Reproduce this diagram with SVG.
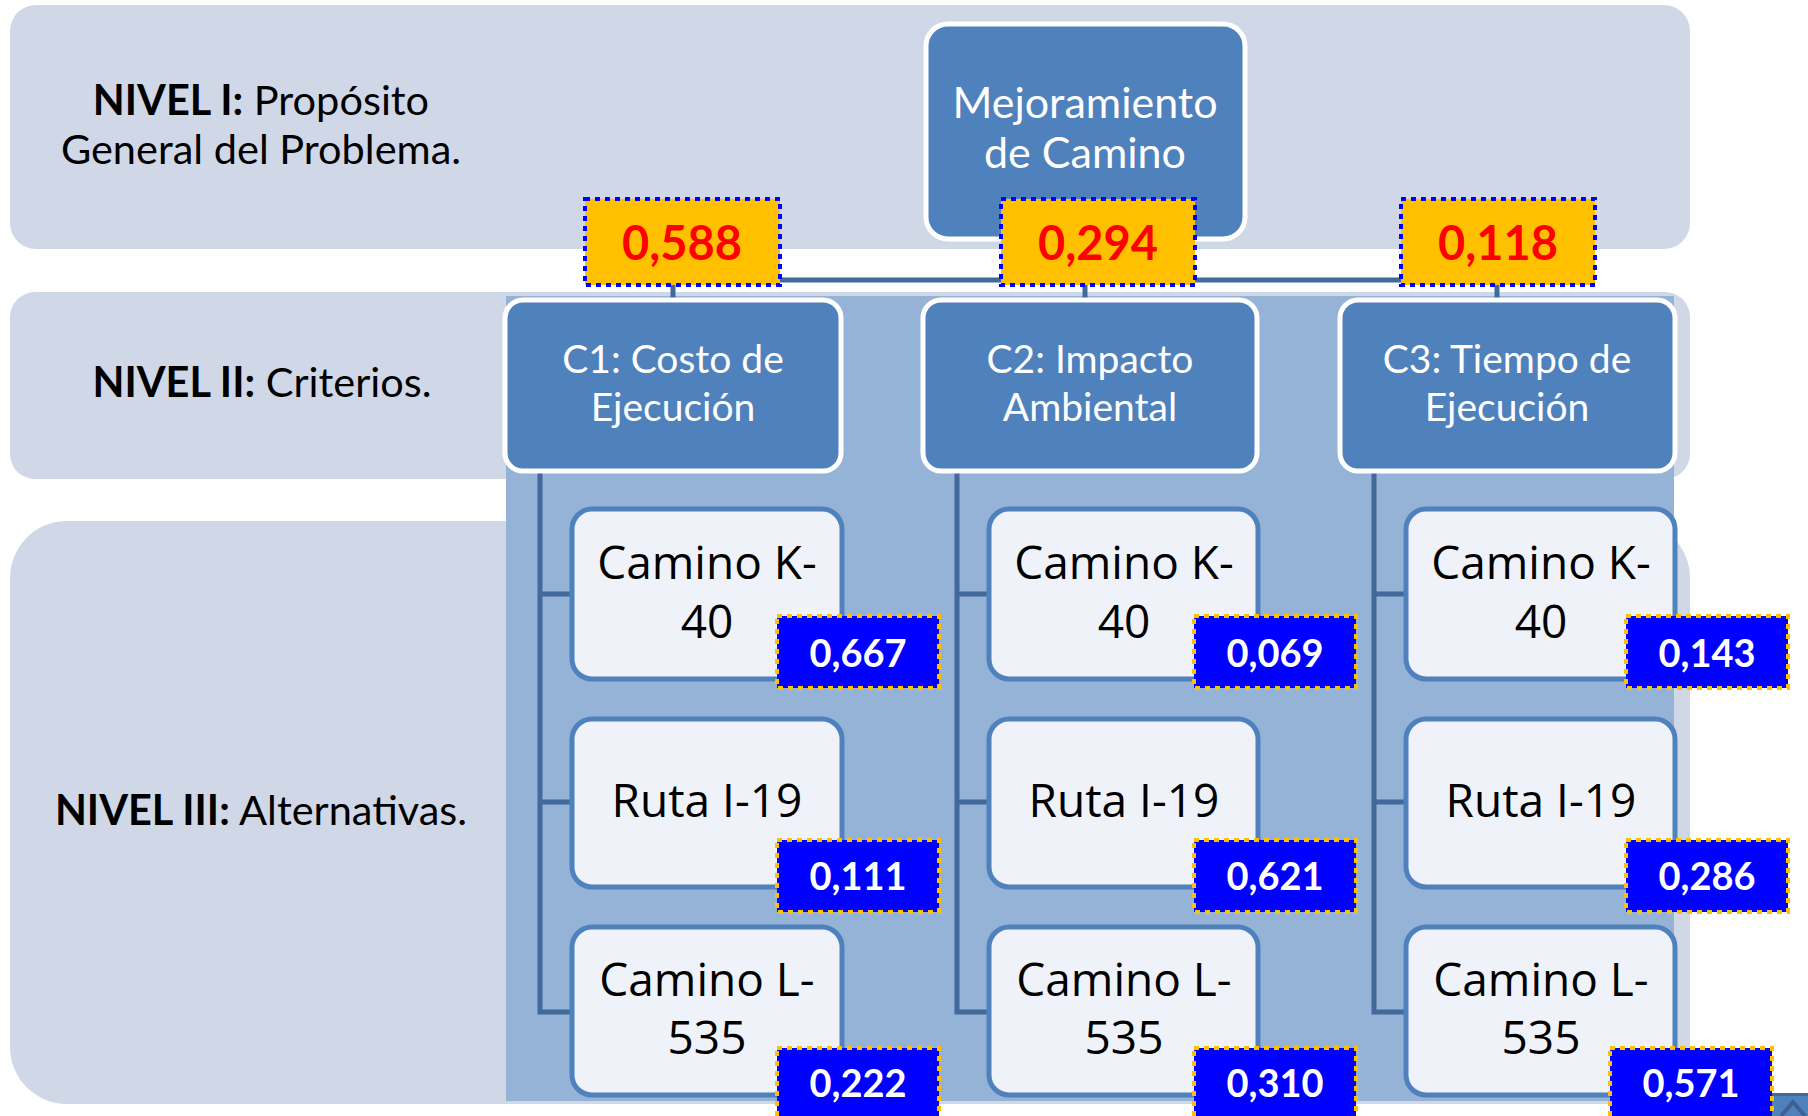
<svg xmlns="http://www.w3.org/2000/svg" width="1808" height="1116" viewBox="0 0 1808 1116">
<style>
.band{fill:#D0D8E8}
.lvl{font-family:Lato,"Open Sans",sans-serif;font-size:41.5px;fill:#000;text-anchor:middle}
.lvl .b{font-weight:bold}
.crit rect{fill:#4F81BD;stroke:#FFFFFF;stroke-width:5}
.crit text{font-family:Lato,"Open Sans",sans-serif;font-size:39px;fill:#FFFFFF;text-anchor:middle}
#goal text{font-size:43px}
.alt rect{fill:#EFF3F9;stroke:#4F81BD;stroke-width:5}
.alt text{font-family:"Open Sans","DejaVu Sans",sans-serif;font-size:46px;fill:#000;text-anchor:middle}
.w rect{fill:#FFC000;stroke:#0000FF;stroke-width:4;stroke-dasharray:5 5}
.w text{font-family:Lato,"Open Sans",sans-serif;font-weight:bold;font-size:47px;fill:#FF0000;text-anchor:middle}
.v rect{fill:#0000FF;stroke:#FFC000;stroke-width:4;stroke-dasharray:5 5}
.v text{font-family:Lato,"Open Sans",sans-serif;font-weight:bold;font-size:38px;fill:#FFFFFF;text-anchor:middle}
.conn{stroke:#41699A;stroke-width:5;fill:none}
</style>
<rect width="1808" height="1116" fill="#FFFFFF"/>
<g id="bands">
<rect class="band" x="10" y="5" width="1680" height="244" rx="26"/>
<rect class="band" x="10" y="292" width="1680" height="187" rx="25"/>
<rect class="band" x="10" y="521" width="1680" height="583" rx="57"/>
</g>
<g id="level-labels" class="lvl">
<text x="261" y="115"><tspan class="b">NIVEL I:</tspan> Propósito</text>
<text x="261" y="164">General del Problema.</text>
<text x="262" y="397"><tspan class="b">NIVEL II:</tspan> Criterios.</text>
<text x="261" y="825"><tspan class="b">NIVEL III:</tspan> Alternativas.</text>
</g>
<rect id="panel" x="506" y="296" width="1168" height="805" fill="#95B3D7"/>
<g id="connectors" class="conn">
<path d="M1085 239V280M673 300V280H1497V300M1085 280V300"/>
<path d="M540 471V1012H572M540 594H572M540 802H572"/>
<path d="M957 471V1012H989M957 594H989M957 802H989"/>
<path d="M1374 471V1012H1406M1374 594H1406M1374 802H1406"/>
</g>
<g id="goal" class="crit">
<rect x="926" y="24" width="319" height="215" rx="22"/>
<text x="1085" y="118">Mejoramiento</text>
<text x="1085" y="168">de Camino</text>
</g>
<g id="c1" class="crit">
<rect x="505" y="300" width="336" height="171" rx="18"/>
<text x="673" y="373">C1: Costo de</text>
<text x="673" y="421">Ejecución</text>
</g>
<g id="c2" class="crit">
<rect x="923" y="300" width="334" height="171" rx="18"/>
<text x="1090" y="373">C2: Impacto</text>
<text x="1090" y="421">Ambiental</text>
</g>
<g id="c3" class="crit">
<rect x="1340" y="300" width="335" height="171" rx="18"/>
<text x="1507" y="373">C3: Tiempo de</text>
<text x="1507" y="421">Ejecución</text>
</g>
<g id="w1" class="w"><rect x="585" y="199" width="195" height="86"/><text x="682" y="260">0,588</text></g>
<g id="w2" class="w"><rect x="1001" y="199" width="194" height="86"/><text x="1098" y="260">0,294</text></g>
<g id="w3" class="w"><rect x="1401" y="199" width="194" height="86"/><text x="1498" y="260">0,118</text></g>
<g id="a11" class="alt"><rect x="572" y="509" width="270" height="170" rx="20"/><text x="707" y="579">Camino K-</text><text x="707" y="638">40</text></g>
<g id="a12" class="alt"><rect x="572" y="719" width="270" height="168" rx="20"/><text x="707" y="817">Ruta I-19</text></g>
<g id="a13" class="alt"><rect x="572" y="927" width="270" height="168" rx="20"/><text x="707" y="996">Camino L-</text><text x="707" y="1054">535</text></g>
<g id="a21" class="alt"><rect x="989" y="509" width="269" height="170" rx="20"/><text x="1124" y="579">Camino K-</text><text x="1124" y="638">40</text></g>
<g id="a22" class="alt"><rect x="989" y="719" width="269" height="168" rx="20"/><text x="1124" y="817">Ruta I-19</text></g>
<g id="a23" class="alt"><rect x="989" y="927" width="269" height="168" rx="20"/><text x="1124" y="996">Camino L-</text><text x="1124" y="1054">535</text></g>
<g id="a31" class="alt"><rect x="1406" y="509" width="269" height="170" rx="20"/><text x="1541" y="579">Camino K-</text><text x="1541" y="638">40</text></g>
<g id="a32" class="alt"><rect x="1406" y="719" width="269" height="168" rx="20"/><text x="1541" y="817">Ruta I-19</text></g>
<g id="a33" class="alt"><rect x="1406" y="927" width="269" height="168" rx="20"/><text x="1541" y="996">Camino L-</text><text x="1541" y="1054">535</text></g>
<g id="v11" class="v"><rect x="777" y="616" width="162" height="72"/><text x="858" y="667">0,667</text></g>
<g id="v12" class="v"><rect x="777" y="840" width="162" height="72"/><text x="858" y="890">0,111</text></g>
<g id="v13" class="v"><rect x="777" y="1048" width="162" height="72"/><text x="858" y="1097">0,222</text></g>
<g id="v21" class="v"><rect x="1194" y="616" width="162" height="72"/><text x="1275" y="667">0,069</text></g>
<g id="v22" class="v"><rect x="1194" y="840" width="162" height="72"/><text x="1275" y="890">0,621</text></g>
<g id="v23" class="v"><rect x="1194" y="1048" width="162" height="72"/><text x="1275" y="1097">0,310</text></g>
<g id="v31" class="v"><rect x="1626" y="616" width="162" height="72"/><text x="1707" y="667">0,143</text></g>
<g id="v32" class="v"><rect x="1626" y="840" width="162" height="72"/><text x="1707" y="890">0,286</text></g>
<g id="corner-button">
<rect x="1771" y="1093" width="37" height="23" fill="#4F81BD"/>
<rect x="1771" y="1093" width="37" height="3" fill="#41699A"/>
<polyline points="1781,1116 1793,1102 1805,1116" fill="none" stroke="#3F6090" stroke-width="4"/>
</g>
<g id="v33" class="v"><rect x="1610" y="1048" width="162" height="72"/><text x="1691" y="1097">0,571</text></g>
</svg>
